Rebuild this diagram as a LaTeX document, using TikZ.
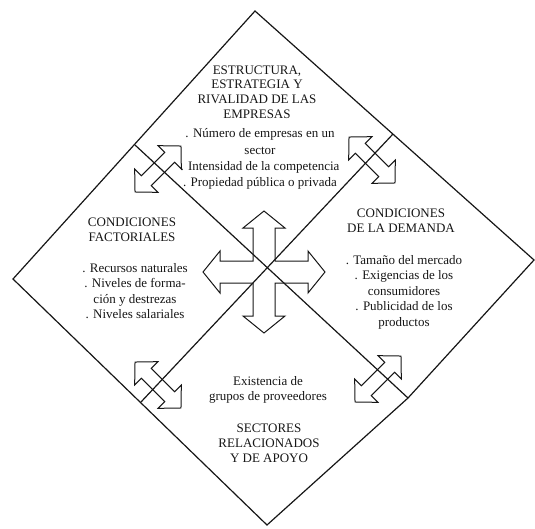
\documentclass[tikz,border=0pt]{standalone}
\usepackage{fontspec}
\setmainfont{Liberation Serif}
\usepackage{tikz}
\usetikzlibrary{calc}
\definecolor{InkCol}{HTML}{161616}

\tikzset{
  headtxt/.style={font=\fontsize{13}{14.8}\selectfont, align=center, text=InkCol, inner sep=0pt},
  listtxt/.style={font=\fontsize{13}{15.5}\selectfont, align=center, text=InkCol, inner sep=0pt},
  edgeline/.style={InkCol, line width=1.2pt, line join=miter},
  blockarrow/.style={InkCol, line width=1pt, line join=miter},
}

\begin{document}
\begin{tikzpicture}[x=1pt, y=-1pt]
  \useasboundingbox (0,0) rectangle (535,528);

  %% Diamond corners (lower right side bends a little, as in the print)
  \coordinate (T) at (255,11);
  \coordinate (R) at (534,260);
  \coordinate (B) at (267,525);
  \coordinate (L) at (13,279);
  % ends of the two dividing lines
  \coordinate (mTL) at (135,145);
  \coordinate (mTR) at (393,134);
  \coordinate (mRB) at (408,398);
  \coordinate (mLB) at (141,402);

  %% Outline and dividing lines
  \draw[edgeline] (T) -- (R) -- (mRB) -- (B) -- (L) -- cycle;
  \draw[edgeline] (mTL) -- (mRB);
  \draw[edgeline] (mTR) -- (mLB);

  %% Central four-way arrow
  \begin{scope}[shift={(264,272)}]
    \draw[blockarrow] (0,-61) -- (21,-44) -- (11,-44) -- (11,-11) -- (44,-11) -- (44,-21)
      -- (61,0) -- (44,21) -- (44,11) -- (11,11) -- (11,44) -- (21,44)
      -- (0,61) -- (-21,44) -- (-11,44) -- (-11,11) -- (-44,11) -- (-44,21)
      -- (-61,0) -- (-44,-21) -- (-44,-11) -- (-11,-11) -- (-11,-44) -- (-21,-44) -- cycle;
  \end{scope}

  %% Double arrows across the dividing lines
  \foreach \px/\py/\ang in {158/169/45, 372/160/-45, 158/385/-45, 378/379/45}{
    \draw[blockarrow, shift={(\px,\py)}, rotate=\ang]
      (32.5,0) -- (16.5,16.5) -- (16.5,7) -- (-16.5,7) -- (-16.5,16.5) -- (-32.5,0)
      -- (-16.5,-16.5) -- (-16.5,-7) -- (16.5,-7) -- (16.5,-16.5) -- cycle;
  }

  %% Top: firms
  \node[headtxt] (estr) at (257,92) {ESTRUCTURA,\\ESTRATEGIA Y\\RIVALIDAD DE LAS\\EMPRESAS};
  \node[listtxt, font=\fontsize{13}{16.2}\selectfont] (estrlist) at (260,159)
    {. Número de empresas en un\\sector\\. Intensidad de la competencia\\. Propiedad pública o privada};

  %% Left: factors
  \node[headtxt] (fact) at (132,230) {CONDICIONES\\FACTORIALES};
  \node[listtxt] (factlist) at (135,291)
    {. Recursos naturales\\. Niveles de forma-\\ción y destrezas\\. Niveles salariales};

  %% Right: demand
  \node[headtxt] (dem) at (401,221) {CONDICIONES\\DE LA DEMANDA};
  \node[listtxt] (demlist) at (404,292)
    {. Tamaño del mercado\\. Exigencias de los\\consumidores\\. Publicidad de los\\productos};

  %% Bottom: related sectors
  \node[listtxt] (sectlist) at (268,390) {Existencia de\\grupos de proveedores};
  \node[headtxt] (sect) at (269,443) {SECTORES\\RELACIONADOS\\Y DE APOYO};

\end{tikzpicture}
\end{document}
